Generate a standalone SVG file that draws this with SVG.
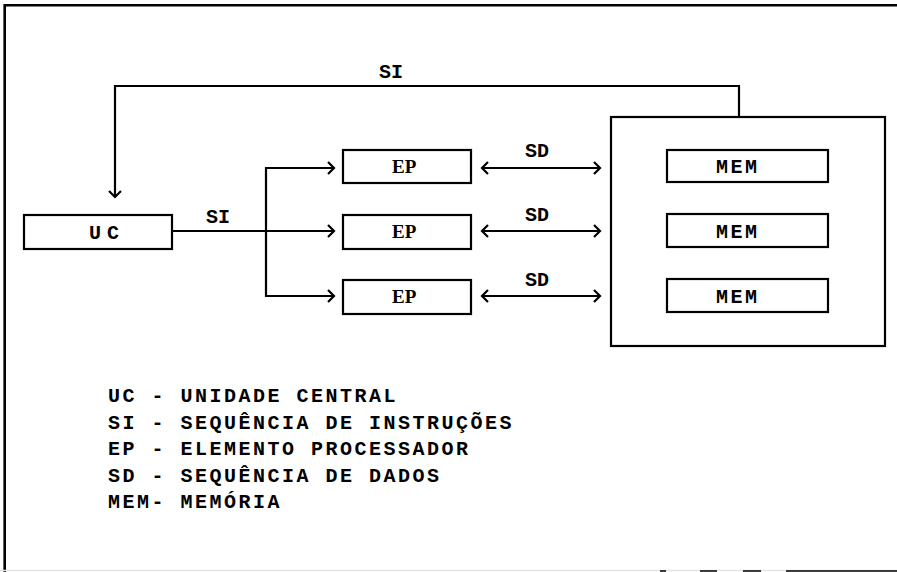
<svg xmlns="http://www.w3.org/2000/svg" width="897" height="572" viewBox="0 0 897 572">
<defs>
<style>
.frame{fill:none;stroke:#000;stroke-width:2.6}
.box{fill:#fff;stroke:#000;stroke-width:2.2}
.ln{fill:none;stroke:#000;stroke-width:2.2}
.t{font-family:"Liberation Mono","DejaVu Sans Mono",monospace;font-weight:bold;font-size:20px;fill:#000}
.ts{font-family:"Liberation Serif","DejaVu Serif",serif;font-weight:bold;font-size:19px;fill:#000}
.lg{font-family:"Liberation Mono","DejaVu Sans Mono",monospace;font-weight:bold;font-size:20px;letter-spacing:2.5px;fill:#000}
</style>
<marker id="ah" markerUnits="userSpaceOnUse" markerWidth="10" markerHeight="14" refX="7" refY="6" orient="auto-start-reverse" viewBox="0 0 10 12">
<path d="M1,0 L7,6 L1,12" fill="none" stroke="#000" stroke-width="2.2"/>
</marker>
</defs>
<rect width="897" height="572" fill="#fff"/>
<g id="frame">
<path class="frame" d="M4.7,572 V5.3 H897"/>
<path d="M0,570.5 H897" stroke="#e6e6e6" stroke-width="1.5" fill="none"/>
<path d="M660,571 H666 M700,571 H717 M743,571 H761 M786,571 H897" stroke="#000" stroke-width="1.5" fill="none"/>
</g>
<g id="connectors">
<path class="ln" d="M739,117 V86 H115 V197" marker-end="url(#ah)"/>
<path class="ln" d="M172,231 H334" marker-end="url(#ah)"/>
<path class="ln" d="M266,231 V168 H334" marker-end="url(#ah)"/>
<path class="ln" d="M266,231 V296 H334" marker-end="url(#ah)"/>
<path class="ln" d="M482,168 H600" marker-start="url(#ah)" marker-end="url(#ah)"/>
<path class="ln" d="M482,231 H600" marker-start="url(#ah)" marker-end="url(#ah)"/>
<path class="ln" d="M482,296 H600" marker-start="url(#ah)" marker-end="url(#ah)"/>
<text class="t" x="379" y="78">SI</text>
<text class="t" x="206" y="223">SI</text>
<text class="t" x="525" y="157">SD</text>
<text class="t" x="525" y="221">SD</text>
<text class="t" x="525" y="286">SD</text>
</g>
<g id="uc">
<rect class="box" x="24" y="215" width="148" height="34"/>
<text class="t" x="89" y="239" style="letter-spacing:6px">UC</text>
</g>
<g id="ep1">
<rect class="box" x="343" y="150" width="128" height="33"/>
<text class="ts" x="392" y="173">EP</text>
</g>
<g id="ep2">
<rect class="box" x="343" y="215" width="128" height="34"/>
<text class="ts" x="392" y="238">EP</text>
</g>
<g id="ep3">
<rect class="box" x="343" y="280" width="128" height="34"/>
<text class="ts" x="392" y="303">EP</text>
</g>
<g id="memory">
<rect class="box" x="611" y="117" width="274" height="229"/>
</g>
<g id="mem1">
<rect class="box" x="667" y="150" width="161" height="32"/>
<text class="t" x="716" y="173" style="letter-spacing:2.5px">MEM</text>
</g>
<g id="mem2">
<rect class="box" x="667" y="214" width="161" height="33"/>
<text class="t" x="716" y="238" style="letter-spacing:2.5px">MEM</text>
</g>
<g id="mem3">
<rect class="box" x="667" y="279" width="161" height="33"/>
<text class="t" x="716" y="303" style="letter-spacing:2.5px">MEM</text>
</g>
<g id="legend">
<text class="lg" x="108" y="402">UC - UNIDADE CENTRAL</text>
<text class="lg" x="108" y="429">SI - SEQUÊNCIA DE INSTRUÇÕES</text>
<text class="lg" x="108" y="455">EP - ELEMENTO PROCESSADOR</text>
<text class="lg" x="108" y="482">SD - SEQUÊNCIA DE DADOS</text>
<text class="lg" x="108" y="508">MEM- MEMÓRIA</text>
</g>
</svg>
